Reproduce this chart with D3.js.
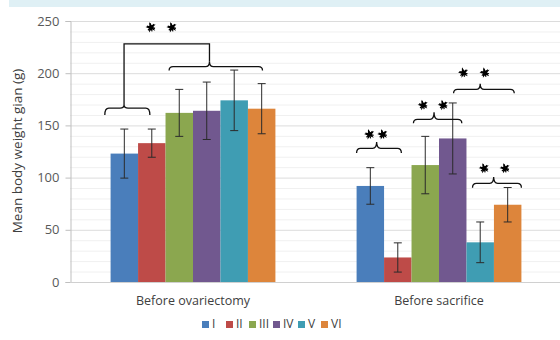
<!DOCTYPE html>
<html>
<head>
<meta charset="utf-8">
<script src="https://cdn.jsdelivr.net/npm/d3@7"></script>
<style>
  html, body { margin: 0; padding: 0; background: #fff; }
  svg { display: block; font-family: "Open Sans", "Liberation Sans", sans-serif; }
</style>
</head>
<body>
<svg id="chart" width="560" height="340"></svg>
<script>
// Mean body weight gain per group, two time points
const categories = ["Before ovariectomy", "Before sacrifice"];
const groups = ["I", "II", "III", "IV", "V", "VI"];
const meansBeforeOvx = [123, 133, 162, 164, 174, 166];
const sdBeforeOvx    = [23.5, 13.5, 22.5, 27.5, 29, 24];
const meansBeforeSac = [92, 23.5, 112, 137.5, 38, 74];
const sdBeforeSac    = [17.5, 14, 27.5, 34, 19.5, 16.5];
const yTicks = [0, 50, 100, 150, 200, 250];
const colors = ["#4a7ebb", "#be4b48", "#8ba74f", "#71588f", "#3f9db3", "#dd853b"];

// Significance braces: category index, bar span (in bar units), tip position,
// end / bar / tip heights (g), star height (g) and star positions (bar units)
const braces = [
  { cat: 0, from: -0.21, to: 1.43, tip: 0.49, yEnd: 160, yBar: 166.5, yTip: 169.5, stars: null },
  { cat: 0, from: 2.13, to: 5.53, tip: 3.6, yEnd: 202.5, yBar: 206.3, yTip: 211, stars: null },
  { cat: 1, from: 0.0, to: 1.63, tip: 0.73, yEnd: 123.5, yBar: 128, yTip: 134, starY: 141.5, stars: [0.47, 0.95] },
  { cat: 1, from: 2.07, to: 3.83, tip: 2.82, yEnd: 152, yBar: 155.8, yTip: 162.5, starY: 169.5, stars: [2.42, 3.15] },
  { cat: 1, from: 3.53, to: 5.74, tip: 4.5, yEnd: 180.7, yBar: 184.6, yTip: 190, starY: 200.5, stars: [3.89, 4.67] },
  { cat: 1, from: 4.22, to: 6.0, tip: 4.99, yEnd: 90.3, yBar: 94.5, yTip: 100.5, starY: 109, stars: [4.64, 5.4] }
];
// Bracket joining the two braces of the first category
const joinBracket = { cat: 0, left: 0.49, right: 3.6, y: 228, starY: 244, stars: [1.47, 2.23] };

const svg = d3.select("#chart");
const margin = { left: 70, right: -2, top: 21, bottom: 58 };
const W = 560, H = 340;

// light strip at the top of the frame
svg.append("rect").attr("x", 9).attr("y", 0).attr("width", W - 9).attr("height", 7).attr("fill", "#dff0f5");

const y = d3.scaleLinear().domain([0, 250]).range([H - margin.bottom, margin.top]);
const x0 = d3.scaleBand().domain(categories).range([margin.left, W - margin.right]);
const groupW = x0.bandwidth() * 0.67;
const x1 = d3.scaleBand().domain(groups).range([0, groupW]);
const groupStart = c => x0(categories[c]) + (x0.bandwidth() - groupW) / 2;
const barX = (c, u) => groupStart(c) + u * x1.bandwidth();

// minor and major gridlines
const minor = d3.range(10, 250, 10).filter(v => v % 50 !== 0);
svg.append("g").selectAll("line").data(minor).join("line")
  .attr("x1", margin.left).attr("x2", W - margin.right)
  .attr("y1", d => y(d) + 0.5).attr("y2", d => y(d) + 0.5)
  .attr("stroke", "#f0f0f0").attr("stroke-width", 1);
svg.append("g").selectAll("line").data(yTicks.filter(v => v > 0)).join("line")
  .attr("x1", margin.left).attr("x2", W - margin.right)
  .attr("y1", d => y(d) + 0.5).attr("y2", d => y(d) + 0.5)
  .attr("stroke", "#dcdcdc").attr("stroke-width", 1);

// y axis
const yAxis = svg.append("g").attr("transform", `translate(${margin.left + 0.5},0)`)
  .call(d3.axisLeft(y).tickValues(yTicks).tickSize(5).tickPadding(6));
yAxis.select(".domain").attr("stroke", "#bfbfbf");
yAxis.selectAll(".tick line").attr("stroke", "#bfbfbf");
yAxis.selectAll(".tick text").attr("fill", "#595959").attr("font-size", 13)
  .attr("font-family", "'Open Sans', sans-serif");

// baseline
svg.append("line").attr("x1", margin.left).attr("x2", W - margin.right)
  .attr("y1", y(0) + 0.5).attr("y2", y(0) + 0.5).attr("stroke", "#d0d0d0");

// bars
const series = [
  { means: meansBeforeOvx, sd: sdBeforeOvx },
  { means: meansBeforeSac, sd: sdBeforeSac }
];
series.forEach((s, c) => {
  const g = svg.append("g");
  g.selectAll("rect").data(groups).join("rect")
    .attr("x", (d, i) => barX(c, i))
    .attr("width", x1.bandwidth())
    .attr("y", (d, i) => y(s.means[i]))
    .attr("height", (d, i) => y(0) - y(s.means[i]))
    .attr("fill", (d, i) => colors[i]);
  // error bars
  const eb = g.selectAll("g.err").data(groups).join("g").attr("class", "err")
    .attr("stroke", "#2b2b2b").attr("stroke-width", 1);
  const cx = i => barX(c, i + 0.5);
  eb.append("line").attr("x1", (d, i) => cx(i)).attr("x2", (d, i) => cx(i))
    .attr("y1", (d, i) => y(s.means[i] + s.sd[i])).attr("y2", (d, i) => y(s.means[i] - s.sd[i]));
  eb.append("line").attr("x1", (d, i) => cx(i) - 4).attr("x2", (d, i) => cx(i) + 4)
    .attr("y1", (d, i) => y(s.means[i] + s.sd[i])).attr("y2", (d, i) => y(s.means[i] + s.sd[i]));
  eb.append("line").attr("x1", (d, i) => cx(i) - 4).attr("x2", (d, i) => cx(i) + 4)
    .attr("y1", (d, i) => y(s.means[i] - s.sd[i])).attr("y2", (d, i) => y(s.means[i] - s.sd[i]));
});

// category labels
svg.append("g").selectAll("text").data(categories).join("text")
  .attr("x", d => x0(d) + x0.bandwidth() / 2).attr("y", 305)
  .attr("text-anchor", "middle").attr("font-size", 12.5).attr("fill", "#404040")
  .text(d => d);

// y title
svg.append("text").attr("transform", `translate(22,151) rotate(-90)`)
  .attr("text-anchor", "middle").attr("font-size", 13.5).attr("fill", "#404040")
  .text("Mean body weight gian (g)");

// braces
function bracePath(b) {
  const xa = barX(b.cat, b.from), xb = barX(b.cat, b.to), xt = barX(b.cat, b.tip);
  const ye = y(b.yEnd), yb = y(b.yBar), yt = y(b.yTip);
  const r = 4;
  return `M${xa},${ye} Q${xa},${yb} ${xa + r},${yb} L${xt - r},${yb} Q${xt},${yb} ${xt},${yt}` +
         ` Q${xt},${yb} ${xt + r},${yb} L${xb - r},${yb} Q${xb},${yb} ${xb},${ye}`;
}
const ann = svg.append("g");
ann.selectAll("path.brace").data(braces).join("path").attr("class", "brace")
  .attr("d", bracePath).attr("fill", "none").attr("stroke", "#111").attr("stroke-width", 1.3);

// joining bracket
const jb = joinBracket;
const bl = braces[0], br = braces[1];
ann.append("path")
  .attr("d", `M${barX(jb.cat, jb.left)},${y(bl.yTip)} L${barX(jb.cat, jb.left)},${y(jb.y)} L${barX(jb.cat, jb.right)},${y(jb.y)} L${barX(jb.cat, jb.right)},${y(br.yTip)}`)
  .attr("fill", "none").attr("stroke", "#111").attr("stroke-width", 1.3);

// significance stars
const starList = [];
braces.forEach(b => { if (b.stars) b.stars.forEach(s => starList.push({ x: barX(b.cat, s), y: y(b.starY) })); });
jb.stars.forEach(s => starList.push({ x: barX(jb.cat, s), y: y(jb.starY) }));
const star = d3.symbol().type(d3.symbolStar).size(34);
const starG = ann.selectAll("g.star").data(starList).join("g").attr("class", "star")
  .attr("transform", d => `translate(${d.x},${d.y}) rotate(-15)`);
starG.append("path").attr("d", star).attr("fill", "#000");
starG.append("path").attr("d", d3.symbol().type(d3.symbolAsterisk).size(50))
  .attr("fill", "none").attr("stroke", "#000").attr("stroke-width", 1.2);

// legend
const legendItems = groups.map((g, i) => ({ g, c: colors[i] }));
const legend = svg.append("g").attr("transform", "translate(0,321)");
const offsets = [202, 226, 249, 273, 298, 321];
const li = legend.selectAll("g").data(legendItems).join("g")
  .attr("transform", (d, i) => `translate(${offsets[i]},0)`);
li.append("rect").attr("width", 7).attr("height", 7).attr("fill", d => d.c);
li.append("text").attr("x", 10).attr("y", 7).attr("font-size", 12).attr("fill", "#404040").text(d => d.g);
</script>
</body>
</html>
